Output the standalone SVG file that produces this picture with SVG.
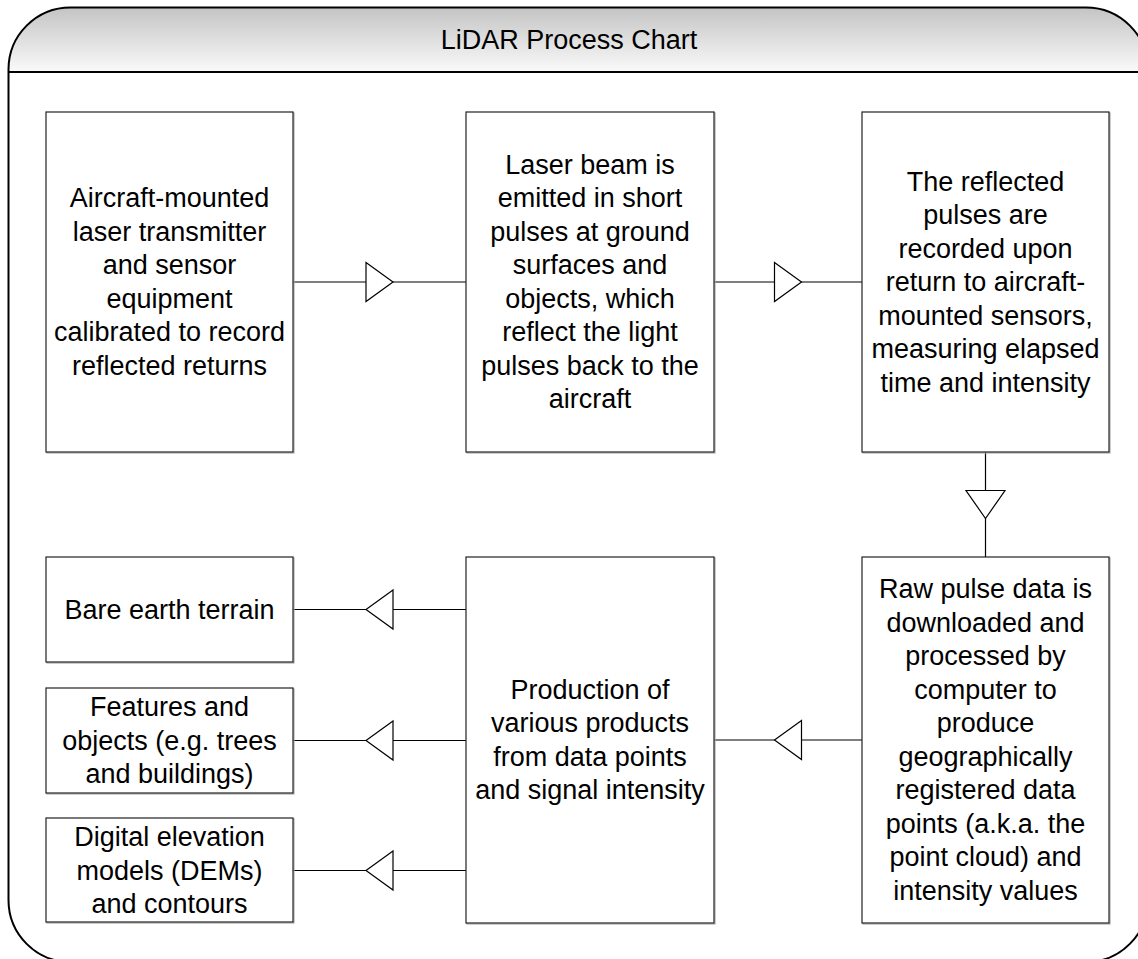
<svg xmlns="http://www.w3.org/2000/svg" width="1138" height="959" viewBox="0 0 1138 959">
<defs>
<linearGradient id="tg" x1="0" y1="0" x2="0" y2="1">
<stop offset="0" stop-color="#c4c4c4"/>
<stop offset="1" stop-color="#fafafa"/>
</linearGradient>
<style>
.box{fill:#fff;stroke:#222;stroke-width:1.2}
.sh{fill:none;stroke:#aaa;stroke-width:1.2}
.t{font-family:"Liberation Sans",Arial,sans-serif;font-size:27px;fill:#000;text-anchor:middle}
.ln{stroke:#000;stroke-width:1.2;fill:none}
.ah{fill:#fff;stroke:#000;stroke-width:1.2;stroke-linejoin:miter}
</style>
</defs>
<rect width="1138" height="959" fill="#fff"/>
<g id="frame">
<path d="M8.5 72 V69.5 A62 62 0 0 1 70.5 7.5 H1086 A62 62 0 0 1 1148 69.5 V72 Z" fill="url(#tg)"/>
<path d="M8.5 900 V69.5 A62 62 0 0 1 70.5 7.5 H1086 A62 62 0 0 1 1148 69.5 V900 A62 62 0 0 1 1086 962 H70.5 A62 62 0 0 1 8.5 900 Z" fill="none" stroke="#000" stroke-width="2"/>
<line x1="8.5" y1="72" x2="1148" y2="72" stroke="#000" stroke-width="2"/>
<text class="t" x="569" y="49">LiDAR Process Chart</text>
</g>
<g id="connectors">
<line class="ln" x1="293" y1="282" x2="466" y2="282"/>
<polygon class="ah" points="366,262.5 393,282 366,301.5"/>
<line class="ln" x1="714" y1="282" x2="862" y2="282"/>
<polygon class="ah" points="774.5,262.5 801.5,282 774.5,301.5"/>
<line class="ln" x1="985.5" y1="452" x2="985.5" y2="557"/>
<polygon class="ah" points="966,490.5 1005,490.5 985.5,518.5"/>
<line class="ln" x1="862" y1="740" x2="714" y2="740"/>
<polygon class="ah" points="801.5,720.5 774.5,740 801.5,759.5"/>
<line class="ln" x1="466" y1="609.5" x2="293" y2="609.5"/>
<polygon class="ah" points="393,590 366,609.5 393,629"/>
<line class="ln" x1="466" y1="740.5" x2="293" y2="740.5"/>
<polygon class="ah" points="393,721 366,740.5 393,760"/>
<line class="ln" x1="466" y1="870.5" x2="293" y2="870.5"/>
<polygon class="ah" points="393,851 366,870.5 393,890"/>
</g>
<g id="n1">
<rect class="sh" x="47" y="113" width="247" height="340"/>
<rect class="box" x="46" y="112" width="247" height="340"/>
<text class="t" x="169.5" y="207"><tspan x="169.5">Aircraft-mounted</tspan><tspan x="169.5" dy="33.5">laser transmitter</tspan><tspan x="169.5" dy="33.5">and sensor</tspan><tspan x="169.5" dy="33.5">equipment</tspan><tspan x="169.5" dy="33.5">calibrated to record</tspan><tspan x="169.5" dy="33.5">reflected returns</tspan></text>
</g>
<g id="n2">
<rect class="sh" x="467" y="113" width="248" height="340"/>
<rect class="box" x="466" y="112" width="248" height="340"/>
<text class="t" x="590" y="173.75"><tspan x="590">Laser beam is</tspan><tspan x="590" dy="33.5">emitted in short</tspan><tspan x="590" dy="33.5">pulses at ground</tspan><tspan x="590" dy="33.5">surfaces and</tspan><tspan x="590" dy="33.5">objects, which</tspan><tspan x="590" dy="33.5">reflect the light</tspan><tspan x="590" dy="33.5">pulses back to the</tspan><tspan x="590" dy="33.5">aircraft</tspan></text>
</g>
<g id="n3">
<rect class="sh" x="863" y="113" width="247" height="340"/>
<rect class="box" x="862" y="112" width="247" height="340"/>
<text class="t" x="985.5" y="190.5"><tspan x="985.5">The reflected</tspan><tspan x="985.5" dy="33.5">pulses are</tspan><tspan x="985.5" dy="33.5">recorded upon</tspan><tspan x="985.5" dy="33.5">return to aircraft-</tspan><tspan x="985.5" dy="33.5">mounted sensors,</tspan><tspan x="985.5" dy="33.5">measuring elapsed</tspan><tspan x="985.5" dy="33.5">time and intensity</tspan></text>
</g>
<g id="n4">
<rect class="sh" x="863" y="558" width="247" height="366"/>
<rect class="box" x="862" y="557" width="247" height="366"/>
<text class="t" x="985.5" y="598.25"><tspan x="985.5">Raw pulse data is</tspan><tspan x="985.5" dy="33.5">downloaded and</tspan><tspan x="985.5" dy="33.5">processed by</tspan><tspan x="985.5" dy="33.5">computer to</tspan><tspan x="985.5" dy="33.5">produce</tspan><tspan x="985.5" dy="33.5">geographically</tspan><tspan x="985.5" dy="33.5">registered data</tspan><tspan x="985.5" dy="33.5">points (a.k.a. the</tspan><tspan x="985.5" dy="33.5">point cloud) and</tspan><tspan x="985.5" dy="33.5">intensity values</tspan></text>
</g>
<g id="n5">
<rect class="sh" x="467" y="558" width="248" height="366"/>
<rect class="box" x="466" y="557" width="248" height="366"/>
<text class="t" x="590" y="698.75"><tspan x="590">Production of</tspan><tspan x="590" dy="33.5">various products</tspan><tspan x="590" dy="33.5">from data points</tspan><tspan x="590" dy="33.5">and signal intensity</tspan></text>
</g>
<g id="n6">
<rect class="sh" x="47" y="558" width="247" height="105"/>
<rect class="box" x="46" y="557" width="247" height="105"/>
<text class="t" x="169.5" y="618.5">Bare earth terrain</text>
</g>
<g id="n7">
<rect class="sh" x="47" y="689" width="247" height="105"/>
<rect class="box" x="46" y="688" width="247" height="105"/>
<text class="t" x="169.5" y="716"><tspan x="169.5">Features and</tspan><tspan x="169.5" dy="33.5">objects (e.g. trees</tspan><tspan x="169.5" dy="33.5">and buildings)</tspan></text>
</g>
<g id="n8">
<rect class="sh" x="47" y="819" width="247" height="104"/>
<rect class="box" x="46" y="818" width="247" height="104"/>
<text class="t" x="169.5" y="846"><tspan x="169.5">Digital elevation</tspan><tspan x="169.5" dy="33.5">models (DEMs)</tspan><tspan x="169.5" dy="33.5">and contours</tspan></text>
</g>
</svg>
